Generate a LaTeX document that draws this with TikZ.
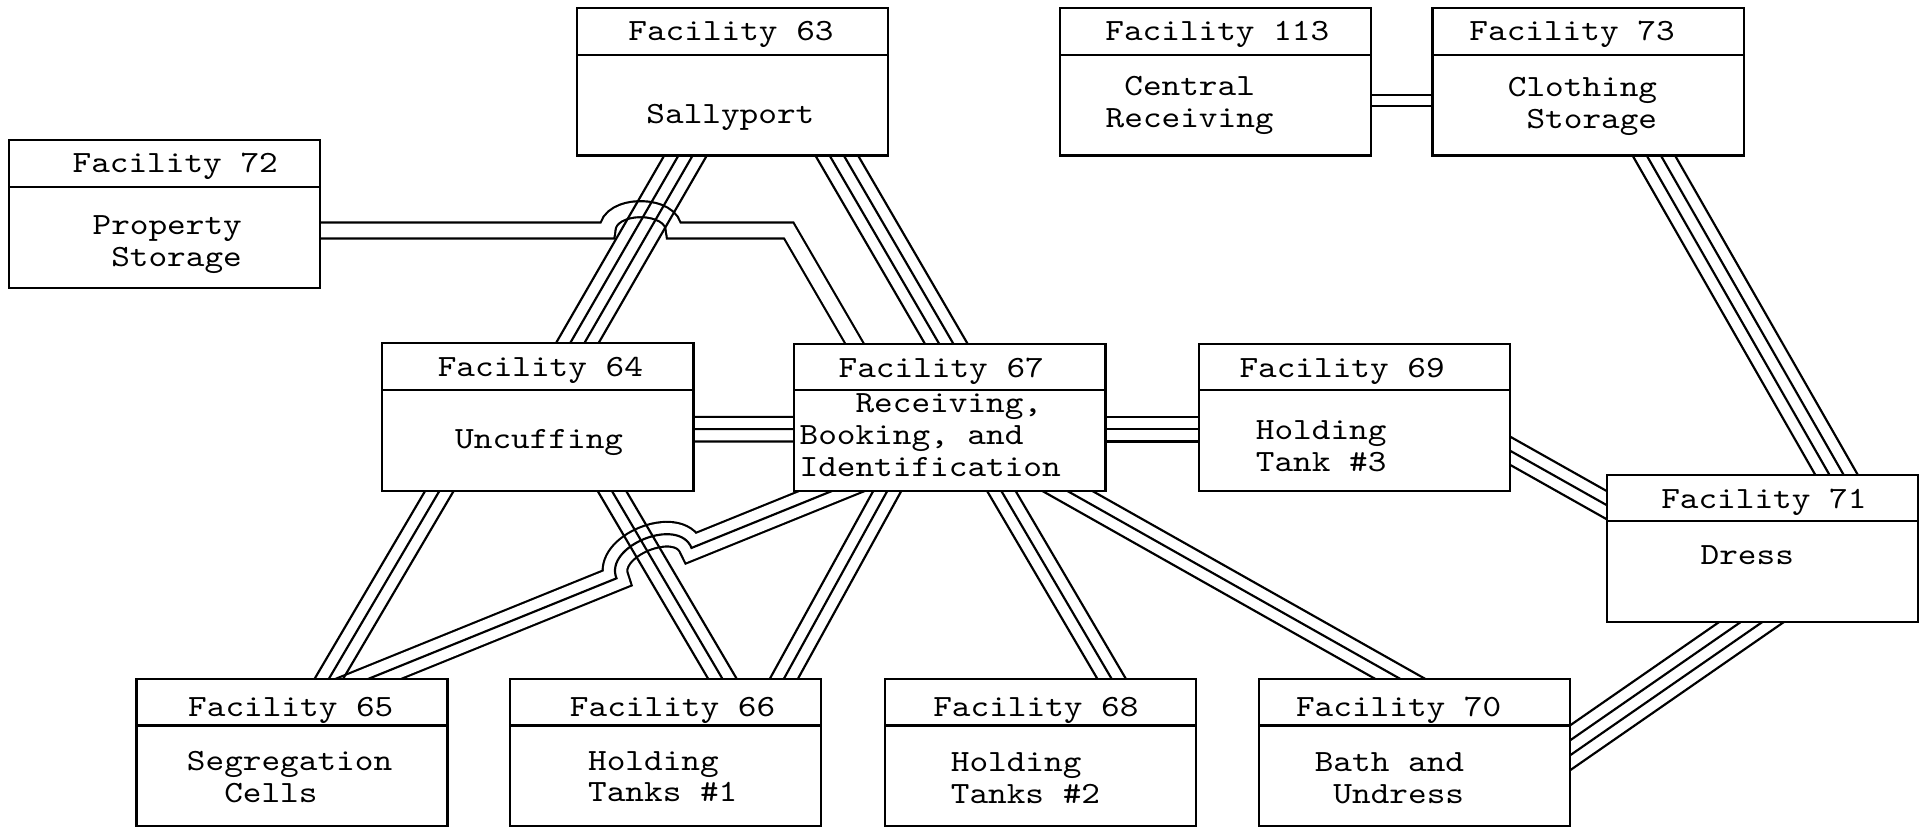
\documentclass[tikz,border=0pt]{standalone}
\usepackage{fontspec}
\newfontfamily\typew{lmmono10-regular.otf}[FakeStretch=1.15]
\usetikzlibrary{calc, backgrounds}

\newcommand{\pipe}[3]{\foreach \k in {#1}
  \draw[pipeLine] ($(#2)!-0.6cm!(#3)!\k!90:(#3)$) -- ($(#3)!-0.6cm!(#2)!\k!-90:(#2)$);}

\begin{document}
\begin{tikzpicture}[line width=1pt, inner sep=0pt]
  \useasboundingbox (0,0) rectangle (31.36,-13.48);

  \tikzstyle{facBox}=[draw, fill=white, minimum width=5.06cm, minimum height=2.4cm,
    path picture={\draw ([yshift=-0.76cm]path picture bounding box.north west) -- ([yshift=-0.76cm]path picture bounding box.north east);}];
  \tikzstyle{facText}=[font=\typew\fontsize{14.3pt}{14.8pt}\selectfont, align=left];
  \tikzstyle{pipeLine}=[line width=1pt];
  \tikzstyle{jumpTwo}=[line width=0.26cm+1pt, postaction={draw, white, line width=0.26cm-1pt}];
  \tikzstyle{jumpThree}=[line width=0.4cm+1pt, postaction={draw, white, line width=0.4cm-1pt}, postaction={draw, black, line width=1pt}];

  \node[facBox] (f63) at (11.91,-1.33) {};
  \node[facText] (h63) at ([xshift=-0.02cm, yshift=-0.45cm]f63.north) {Facility 63};
  \node[facText] (b63) at ([shift={(-0.03,-1.8)}]f63.north) {Sallyport};

  \node[facBox] (f72) at (2.67,-3.48) {};
  \node[facText] (h72) at ([xshift=0.18cm, yshift=-0.45cm]f72.north) {Facility 72};
  \node[facText] (b72) at ([shift={(0.05,-1.72)}]f72.north) {Property\\\hphantom{x}Storage};

  \node[facBox] (f113) at (19.77,-1.33) {};
  \node[facText] (h113) at ([xshift=0.03cm, yshift=-0.45cm]f113.north) {Facility 113};
  \node[facText] (b113) at ([shift={(-0.42,-1.61)}]f113.north) {\hphantom{x}Central\\Receiving};

  \node[facBox] (f73) at (25.83,-1.33) {};
  \node[facText] (h73) at ([xshift=-0.26cm, yshift=-0.45cm]f73.north) {Facility 73};
  \node[facText] (b73) at ([shift={(-0.09,-1.62)}]f73.north) {Clothing\\\hphantom{x}Storage};

  \node[facBox] (f64) at (8.75,-6.78) {};
  \node[facText] (h64) at ([xshift=0.04cm, yshift=-0.47cm]f64.north) {Facility 64};
  \node[facText] (b64) at ([shift={(0.02,-1.64)}]f64.north) {Uncuffing};

  \node[facBox] (f67) at (15.45,-6.79) {};
  \node[facText] (h67) at ([xshift=-0.14cm, yshift=-0.47cm]f67.north) {Facility 67};
  \node[facText] (b67) at ([shift={(-0.32,-1.5)}]f67.north) {\hphantom{xxx}Receiving,\\Booking, and\\Identification};

  \node[facBox] (f69) at (22.03,-6.79) {};
  \node[facText] (h69) at ([xshift=-0.2cm, yshift=-0.47cm]f69.north) {Facility 69};
  \node[facText] (b69) at ([shift={(-0.54,-1.68)}]f69.north) {Holding\\Tank \#3};

  \node[facBox] (f71) at (28.67,-8.92) {};
  \node[facText] (h71) at ([xshift=0.02cm, yshift=-0.47cm]f71.north) {Facility 71};
  \node[facText] (b71) at ([shift={(-0.25,-1.32)}]f71.north) {Dress};

  \node[facBox] (f65) at (4.75,-12.24) {};
  \node[facText] (h65) at ([xshift=-0.02cm, yshift=-0.53cm]f65.north) {Facility 65};
  \node[facText] (b65) at ([shift={(-0.04,-1.62)}]f65.north) {Segregation\\\hphantom{xx}Cells};

  \node[facBox] (f66) at (10.83,-12.24) {};
  \node[facText] (h66) at ([xshift=0.11cm, yshift=-0.53cm]f66.north) {Facility 66};
  \node[facText] (b66) at ([shift={(-0.05,-1.61)}]f66.north) {Holding\\Tanks \#1};

  \node[facBox] (f68) at (16.93,-12.24) {};
  \node[facText] (h68) at ([xshift=-0.08cm, yshift=-0.53cm]f68.north) {Facility 68};
  \node[facText] (b68) at ([shift={(-0.25,-1.63)}]f68.north) {Holding\\Tanks \#2};

  \node[facBox] (f70) at (23.01,-12.24) {};
  \node[facText] (h70) at ([xshift=-0.26cm, yshift=-0.53cm]f70.north) {Facility 70};
  \node[facText] (b70) at ([shift={(-0.41,-1.64)}]f70.north) {Bath and\\\hphantom{x}Undress};

  \begin{scope}[on background layer]
    \coordinate (s72) at ([yshift=-0.27cm]f72.center);
    \coordinate (jA) at (9.88,-3.75);
    \coordinate (jB) at (10.96,-3.75);
    \coordinate (kA) at (12.83,-3.75);
    \coordinate (t67) at ([xshift=-1.56cm]f67.north);
    \draw[jumpTwo] (s72) -- (jA) to[bend left=90, looseness=1.1] (jB) -- (kA) -- ($(t67)!-0.3cm!(kA)$);

    \coordinate (s67) at ([xshift=-1.97cm]f67.south);
    \coordinate (t65) at ([xshift=1.29cm]f65.north);
    \draw[jumpThree] ($(s67)!-0.6cm!(t65)$) -- ($(s67)!0.3!(t65)$) to[bend right=90, looseness=1.1] ($(s67)!0.464!(t65)$) -- ($(t65)!-0.6cm!(s67)$);

    \pipe{-0.3cm,-0.1cm,0.1cm,0.3cm}{[xshift=-0.77cm]f63.south}{[xshift=0.65cm]f64.north}
    \pipe{-0.3cm,-0.1cm,0.1cm,0.3cm}{[xshift=1.71cm]f63.south}{[xshift=-0.07cm]f67.north}
    \pipe{-0.09cm,0.09cm}{[yshift=-0.3cm]f113.east}{[yshift=-0.3cm]f73.west}
    \pipe{-0.3cm,-0.1cm,0.1cm,0.3cm}{[xshift=1.08cm]f73.south}{[xshift=1.19cm]f71.north}
    \pipe{-0.2cm,0cm,0.2cm}{[yshift=-0.55cm]f69.east}{[yshift=0.71cm]f71.west}
    \pipe{-0.3cm,-0.1cm,0.1cm,0.3cm}{[xshift=-0.21cm]f71.south}{[yshift=0.09cm]f70.east}
    \pipe{-0.2cm,0cm,0.2cm}{[yshift=-0.2cm]f64.east}{[yshift=-0.19cm]f67.west}
    \pipe{-0.2cm,0cm,0.2cm}{[yshift=-0.19cm]f67.east}{[yshift=-0.19cm]f69.west}
    \pipe{-0.2cm,0cm,0.2cm}{[xshift=-1.61cm]f64.south}{[xshift=0.61cm]f65.north}
    \pipe{-0.2cm,0cm,0.2cm}{[xshift=1.21cm]f64.south}{[xshift=0.91cm]f66.north}
    \pipe{-0.2cm,0cm,0.2cm}{[xshift=-1.03cm]f67.south}{[xshift=1.93cm]f66.north}
    \pipe{-0.2cm,0cm,0.2cm}{[xshift=0.85cm]f67.south}{[xshift=1.14cm]f68.north}
    \pipe{-0.2cm,0cm,0.2cm}{[xshift=1.95cm]f67.south}{[xshift=-0.27cm]f70.north}
  \end{scope}
\end{tikzpicture}
\end{document}
